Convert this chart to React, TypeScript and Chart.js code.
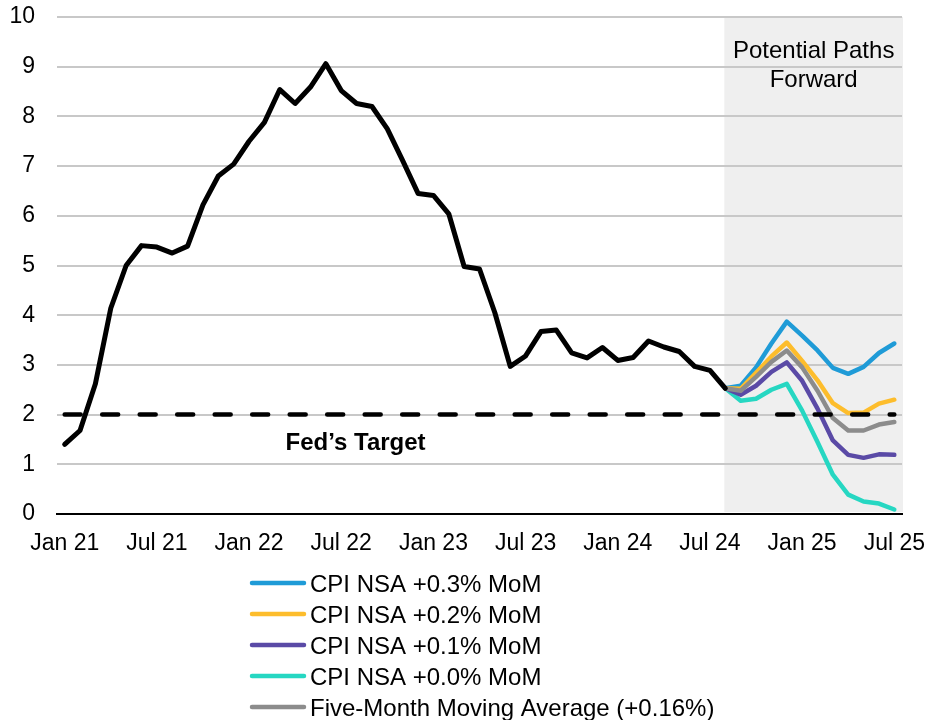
import { useEffect, useRef } from 'react';
import { Chart, registerables } from 'chart.js';

Chart.register(...registerables);

// ---------- DATA ----------
const months = [
  'Jan 21', 'Feb 21', 'Mar 21', 'Apr 21', 'May 21', 'Jun 21', 'Jul 21', 'Aug 21', 'Sep 21', 'Oct 21', 'Nov 21', 'Dec 21',
  'Jan 22', 'Feb 22', 'Mar 22', 'Apr 22', 'May 22', 'Jun 22', 'Jul 22', 'Aug 22', 'Sep 22', 'Oct 22', 'Nov 22', 'Dec 22',
  'Jan 23', 'Feb 23', 'Mar 23', 'Apr 23', 'May 23', 'Jun 23', 'Jul 23', 'Aug 23', 'Sep 23', 'Oct 23', 'Nov 23', 'Dec 23',
  'Jan 24', 'Feb 24', 'Mar 24', 'Apr 24', 'May 24', 'Jun 24', 'Jul 24', 'Aug 24', 'Sep 24', 'Oct 24', 'Nov 24', 'Dec 24',
  'Jan 25', 'Feb 25', 'Mar 25', 'Apr 25', 'May 25', 'Jun 25', 'Jul 25',
];
const tickLabels = ['Jan 21', 'Jul 21', 'Jan 22', 'Jul 22', 'Jan 23', 'Jul 23', 'Jan 24', 'Jul 24', 'Jan 25', 'Jul 25'];

// Actual CPI YoY, Jan 21 - Aug 24
const actualCpi = [
  1.40, 1.68, 2.62, 4.14, 5.00, 5.40, 5.37, 5.25, 5.39, 6.22, 6.80, 7.04,
  7.50, 7.88, 8.54, 8.26, 8.59, 9.06, 8.52, 8.26, 8.20, 7.75, 7.11, 6.45,
  6.41, 6.04, 4.98, 4.93, 4.05, 2.97, 3.18, 3.67, 3.70, 3.24, 3.14, 3.35,
  3.09, 3.15, 3.48, 3.36, 3.27, 2.97, 2.89, 2.53,
];

// Forward paths, Aug 24 - Jul 25
const forwardStart = 'Aug 24';
const path03 = [2.53, 2.58, 2.95, 3.43, 3.87, 3.59, 3.29, 2.94, 2.82, 2.96, 3.24, 3.43];
const path02 = [2.53, 2.52, 2.84, 3.17, 3.45, 3.08, 2.69, 2.23, 2.03, 2.04, 2.22, 2.30];
const path01 = [2.53, 2.40, 2.58, 2.86, 3.05, 2.68, 2.12, 1.48, 1.19, 1.13, 1.20, 1.19];
const path00 = [2.53, 2.28, 2.32, 2.50, 2.62, 2.08, 1.45, 0.79, 0.39, 0.25, 0.21, 0.09];
const pathAvg = [2.53, 2.48, 2.76, 3.06, 3.29, 2.95, 2.48, 1.93, 1.68, 1.68, 1.80, 1.85];

const fedTarget = 2;
const yMin = 0;
const yMax = 10;
const yStep = 1;

const seriesLabels = [
  'CPI NSA +0.3% MoM',
  'CPI NSA +0.2% MoM',
  'CPI NSA +0.1% MoM',
  'CPI NSA +0.0% MoM',
  'Five-Month Moving Average (+0.16%)',
];
const seriesColors = ['#1f9bd7', '#fdbd2c', '#5a4aa6', '#26d7c2', '#8c8c8c'];

const shadeTitle = ['Potential Paths', 'Forward'];
const targetLabel = 'Fed\u2019s Target';
const targetLabelAt = { month: 'Aug 22', value: 1.42 };

// ---------- helpers ----------
const startIdx = months.indexOf(forwardStart);
const padForward = (arr: number[]) => months.map((_, i) => (i >= startIdx && i - startIdx < arr.length ? arr[i - startIdx] : null));
const padActual = months.map((_, i) => (i < actualCpi.length ? actualCpi[i] : null));
const targetLine = months.map(() => fedTarget);

const FONT = "'Liberation Sans', Arial, sans-serif";

const overlayPlugin = {
  id: 'overlay',
  beforeDraw(chart: any) {
    const { ctx, chartArea, scales } = chart;
    const x = scales.x;
    const y = scales.y;
    const left = x.getPixelForValue(startIdx) - 1;
    const top = y.getPixelForValue(yMax);
    const bottom = y.getPixelForValue(yMin);
    ctx.save();
    ctx.fillStyle = '#efefef';
    ctx.fillRect(left, top, chartArea.right + 1 - left, bottom - top - 2);
    ctx.restore();
  },
  afterDraw(chart: any) {
    const { ctx, chartArea, scales } = chart;
    const x = scales.x;
    const y = scales.y;
    ctx.save();
    // shade title
    const left = x.getPixelForValue(startIdx);
    const cx = (left + chartArea.right) / 2;
    ctx.fillStyle = '#000';
    ctx.font = `24px ${FONT}`;
    ctx.textAlign = 'center';
    ctx.textBaseline = 'alphabetic';
    ctx.fillText(shadeTitle[0], cx, chartArea.top + 41);
    ctx.fillText(shadeTitle[1], cx, chartArea.top + 70);
    // target label
    ctx.font = `bold 24px ${FONT}`;
    ctx.textBaseline = 'middle';
    ctx.fillText(targetLabel, x.getPixelForValue(months.indexOf(targetLabelAt.month)) - 1, y.getPixelForValue(targetLabelAt.value));
    // legend
    ctx.font = `24px ${FONT}`;
    ctx.textAlign = 'left';
    ctx.textBaseline = 'alphabetic';
    const items = chart.data.datasets.filter((d: any) => d.showInLegend);
    items.forEach((d: any, i: number) => {
      const rowY = chartArea.bottom + 69 + i * 31;
      ctx.strokeStyle = d.borderColor;
      ctx.lineWidth = 4.5;
      ctx.lineCap = 'round';
      ctx.beginPath();
      ctx.moveTo(252, rowY);
      ctx.lineTo(304, rowY);
      ctx.stroke();
      ctx.fillStyle = '#000';
      ctx.fillText(d.label, 310, rowY + 8.5);
    });
    ctx.restore();
  },
};

export default function App() {
  const ref = useRef<HTMLCanvasElement>(null);

  useEffect(() => {
    if (!ref.current) return;
    const orders = [5, 4, 3, 6, 2];
    const forwardSets = [path03, path02, path01, path00, pathAvg].map((arr, i) => ({
      label: seriesLabels[i],
      data: padForward(arr),
      borderColor: seriesColors[i],
      backgroundColor: seriesColors[i],
      borderWidth: 4.5,
      pointRadius: 0,
      tension: 0,
      borderJoinStyle: 'round',
      borderCapStyle: 'round',
      order: orders[i],
      showInLegend: true,
    }));
    const chart = new Chart(ref.current, {
      type: 'line',
      data: {
        labels: months,
        datasets: [
          {
            label: 'Fed Target',
            data: targetLine,
            borderColor: '#000',
            borderWidth: 4.5,
            borderDash: [16, 21.5],
            borderCapStyle: 'round',
            pointRadius: 0,
            order: 0,
          },
          {
            label: 'CPI',
            data: padActual,
            borderColor: '#000',
            borderWidth: 5,
            pointRadius: 0,
            borderJoinStyle: 'round',
            borderCapStyle: 'round',
            order: 1,
          },
          ...forwardSets,
        ] as any,
      },
      options: {
        responsive: false,
        animation: false,
        devicePixelRatio: 1,
        layout: { padding: { left: 0, right: 24, top: 17, bottom: 156 } },
        plugins: { legend: { display: false }, tooltip: { enabled: false } },
        scales: {
          x: {
            type: 'category',
            offset: true,
            grid: { display: false, drawTicks: false },
            border: { display: true, color: '#000', width: 2 },
            ticks: {
              autoSkip: false,
              maxRotation: 0,
              minRotation: 0,
              padding: 16,
              color: '#000',
              font: { family: FONT, size: 23 },
              callback: (_v: any, idx: number) => (tickLabels.includes(months[idx]) ? months[idx] : ''),
            },
            afterFit: (s: any) => {
              s.height = 50;
              s.paddingLeft = 0;
              s.paddingRight = 0;
            },
          },
          y: {
            min: yMin,
            max: yMax,
            ticks: {
              stepSize: yStep,
              padding: 22,
              color: '#000',
              font: { family: FONT, size: 23 },
            },
            grid: { color: '#c8c8c8', lineWidth: 2, drawTicks: false },
            border: { display: false },
            afterFit: (s: any) => {
              s.width = 57;
              s.paddingTop = 0;
              s.paddingBottom = 0;
            },
          },
        },
      } as any,
      plugins: [overlayPlugin],
    });
    return () => chart.destroy();
  }, []);

  return (
    <div style={{ position: 'absolute', left: 0, top: 0, width: 926, height: 720, background: '#fff' }}>
      <canvas ref={ref} width={926} height={720} style={{ display: 'block' }} />
    </div>
  );
}
